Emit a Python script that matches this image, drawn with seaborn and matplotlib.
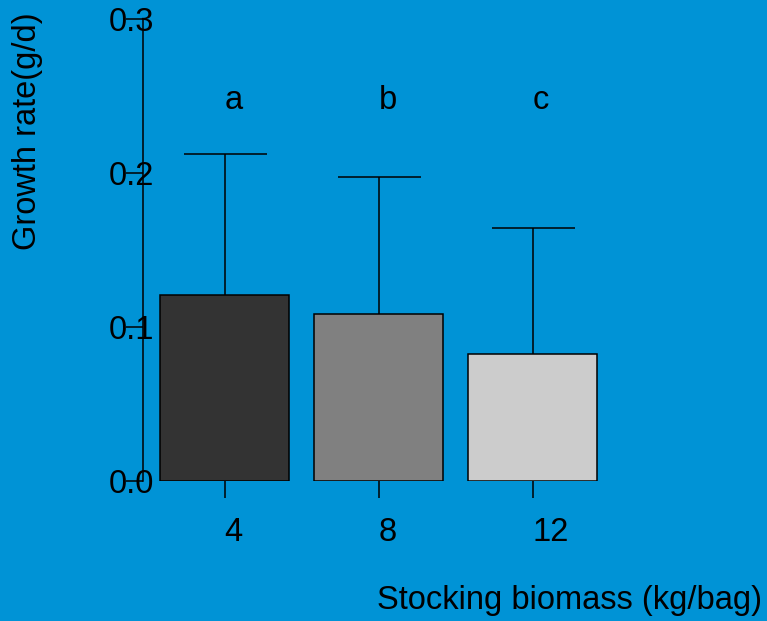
import matplotlib
matplotlib.use("Agg")
import matplotlib.pyplot as plt
import seaborn as sns
import pandas as pd

categories = ["4", "8", "12"]
growth_rate = [0.1208, 0.1084, 0.0825]
error_upper = [0.0915, 0.0890, 0.0818]
letters = ["a", "b", "c"]
bar_colors = ["#333333", "#808080", "#CCCCCC"]
y_ticks = [0.0, 0.1, 0.2, 0.3]
y_tick_labels = ["0.0", "0.1", "0.2", "0.3"]

sns.set_style("white")
plt.rcParams["font.family"] = ["Liberation Sans", "DejaVu Sans"]
BG = "#0093D6"
FS = 23.5

fig = plt.figure(figsize=(7.67, 6.21), dpi=100, facecolor=BG)
ax = fig.add_axes([143 / 767, 1 - 481 / 621, 477 / 767, 462 / 621])
ax.set_facecolor(BG)

df = pd.DataFrame({"biomass": categories, "rate": growth_rate})
sns.barplot(data=df, x="biomass", y="rate", hue="biomass", palette=bar_colors,
            legend=False, width=129 / 154, edgecolor="black", linewidth=1.1,
            errorbar=None, ax=ax, zorder=2)

xs = list(range(len(categories)))
_, caps, _ = ax.errorbar(xs, growth_rate, yerr=[[0] * 3, error_upper], fmt="none",
                         ecolor="black", elinewidth=1.1, capsize=41.5 * 72 / 100,
                         capthick=1.1, zorder=1)
caps[0].set_visible(False)

for i, l in enumerate(letters):
    ax.text(i, 0.247, l, ha="left", va="center", fontsize=FS, color="black")

ax.set_xlim((143 - 224.5) / 154, (620 - 224.5) / 154)
ax.set_ylim(0, 0.3)
ax.set_yticks(y_ticks)
ax.set_yticklabels(y_tick_labels)
for s in ["top", "right", "bottom"]:
    ax.spines[s].set_visible(False)
ax.spines["left"].set_color("black")
ax.spines["left"].set_linewidth(1.1)
ax.tick_params(axis="y", direction="out", length=12.2, width=1.1, pad=-20,
               labelsize=FS, colors="black", left=True)
ax.tick_params(axis="x", direction="out", length=12.2, width=1.1, pad=14,
               labelsize=FS, colors="black", bottom=True)
for t in ax.get_xticklabels():
    t.set_horizontalalignment("left")
ax.set_xlabel("")
ax.set_ylabel("")

fig.text(762 / 767, 1 - 600 / 621, "Stocking biomass (kg/bag)", ha="right",
         va="center", fontsize=FS, color="black")
fig.text(28 / 767, 1 - 131 / 621, "Growth rate(g/d)", rotation=90, ha="center",
         va="center", fontsize=FS, color="black")

fig.savefig("out.png", dpi=100, facecolor=BG)
